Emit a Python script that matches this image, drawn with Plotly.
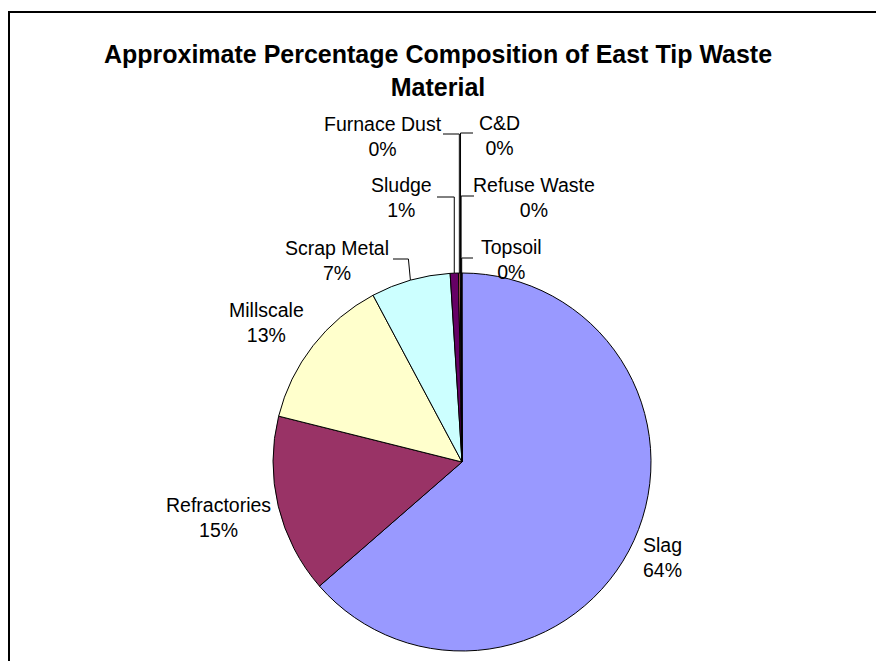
import math
import plotly.graph_objects as go

# ---- data ----
labels = ["Slag", "Refractories", "Millscale", "Scrap Metal", "Sludge",
          "Furnace Dust", "C&D", "Refuse Waste", "Topsoil"]
values = [63.6, 15.3, 13.3, 6.8, 0.7, 0.15, 0.05, 0.05, 0.05]
colors = ["#9999FF", "#993366", "#FFFFCC", "#CCFFFF", "#660066",
          "#FF8080", "#0066CC", "#CCCCFF", "#000080"]
title_text = "Approximate Percentage Composition of East Tip Waste<br>Material"

# ---- layout (pixel geometry) ----
W, H = 876, 661
cx, cy, r = 462, 462, 189
FONT = "Liberation Sans, Arial, sans-serif"

# label block centres (px)
label_pos = {
    "Slag": (662, 557), "Refractories": (218, 517), "Millscale": (266, 322),
    "Scrap Metal": (337, 260), "Sludge": (401, 197), "Furnace Dust": (383, 136),
    "C&D": (499, 135), "Refuse Waste": (534, 197), "Topsoil": (511, 259),
}
# leader line starting points (px), next to the label
leader_start = {
    "Furnace Dust": (443, 134), "Sludge": (437, 197), "Scrap Metal": (393, 259),
    "C&D": (473, 133), "Refuse Waste": (474, 196), "Topsoil": (473, 258),
}

total = sum(values)
pcts = [int(v / total * 100 + 0.5) for v in values]

fig = go.Figure()
fig.add_trace(go.Pie(
    labels=labels, values=values, sort=False, direction="clockwise", rotation=0,
    marker=dict(colors=colors, line=dict(color="#000000", width=1)),
    textinfo="none", showlegend=False, hoverinfo="label+percent",
    domain=dict(x=[(cx - r) / W, (cx + r) / W], y=[1 - (cy + r) / H, 1 - (cy - r) / H]),
))

# leader lines computed from slice mid angles
lx, ly = [], []
cum = 0.0
for lab, v in zip(labels, values):
    mid = (cum + v / 2) / total * 2 * math.pi
    cum += v
    if lab in leader_start:
        ex = cx + r * math.sin(mid)
        ey = cy - r * math.cos(mid)
        sx, sy = leader_start[lab]
        elbow_x = ex if lab != "Scrap Metal" else ex - 2
        lx += [sx, elbow_x, ex, None]
        ly += [sy, sy, ey, None]

fig.add_trace(go.Scatter(x=lx, y=ly, mode="lines", line=dict(color="#000000", width=1),
                         hoverinfo="skip", showlegend=False))

annotations = []
for lab, p in zip(labels, pcts):
    x, y = label_pos[lab]
    annotations.append(dict(
        x=x, y=y, xref="x", yref="y", text=f"{lab}<br>{p}%", showarrow=False,
        xanchor="center", yanchor="middle", align="center",
        font=dict(family=FONT, size=19.5, color="#000000"),
    ))

fig.update_layout(
    width=W, height=H, margin=dict(l=0, r=0, t=0, b=0),
    paper_bgcolor="#FFFFFF", plot_bgcolor="rgba(0,0,0,0)",
    xaxis=dict(range=[0, W], visible=False, fixedrange=True, domain=[0, 1]),
    yaxis=dict(range=[H, 0], visible=False, fixedrange=True, domain=[0, 1]),
    title=dict(text=title_text, x=438 / W, xanchor="center", y=1 - 63 / H, yanchor="middle",
               yref="container", font=dict(family=FONT, size=25, color="#000000", weight="bold")),
    annotations=annotations,
    shapes=[dict(type="rect", xref="x", yref="y", x0=9, y0=12, x1=W + 20, y1=H + 20,
                 line=dict(color="#000000", width=2), fillcolor="rgba(0,0,0,0)", layer="below")],
)

fig.write_html("out.html")
